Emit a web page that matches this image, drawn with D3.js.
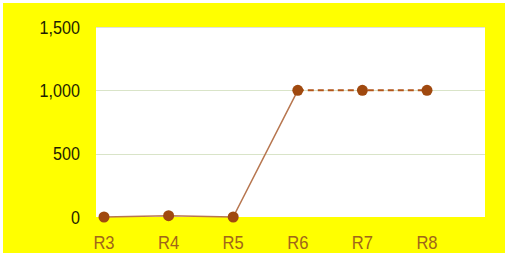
<!DOCTYPE html>
<html>
<head>
<meta charset="utf-8">
<script src="https://cdn.jsdelivr.net/npm/d3@7"></script>
<style>
  body { margin: 0; background: #fff; }
  text { font-family: "Liberation Sans", Arial, sans-serif; }
</style>
</head>
<body>
<div id="chart"></div>
<script>
// chart data
var categories = ["R3", "R4", "R5", "R6", "R7", "R8"];
var values = [0, 10, 0, 1000, 1000, 1000];
var yTicks = [0, 500, 1000, 1500];
var solidUntil = 3; // R3..R6 solid, R6..R8 dashed

var W = 505, H = 253;

var svg = d3.select("#chart")
  .append("svg")
    .attr("width", W)
    .attr("height", H);

// yellow chart background
svg.append("rect")
  .attr("x", 3).attr("y", 3)
  .attr("width", W - 3).attr("height", H - 3)
  .attr("fill", "#ffff00");

var plot = {left: 96, top: 27, right: 485, bottom: 217};

// plot area
svg.append("rect")
  .attr("x", plot.left).attr("y", plot.top)
  .attr("width", plot.right - plot.left)
  .attr("height", plot.bottom - plot.top)
  .attr("fill", "#fff");
svg.append("line")
  .attr("x1", plot.left).attr("x2", plot.right)
  .attr("y1", plot.top + 0.5).attr("y2", plot.top + 0.5)
  .attr("stroke", "#e0e0e0");

var x = d3.scalePoint()
  .domain(categories)
  .range([104, 427]);

var y = d3.scaleLinear()
  .domain([0, 1500])
  .range([plot.bottom, plot.top]);

// gridlines
svg.append("g")
  .selectAll("line")
  .data(yTicks.filter(function(d) { return d > 0 && d < 1500; }))
  .enter()
  .append("line")
    .attr("x1", plot.left).attr("x2", plot.right)
    .attr("y1", function(d) { return Math.round(y(d)) + 0.5; })
    .attr("y2", function(d) { return Math.round(y(d)) + 0.5; })
    .attr("stroke", "#d9e4c8");

// y axis labels
svg.append("g")
  .selectAll("text")
  .data(yTicks)
  .enter()
  .append("text")
    .attr("x", 80)
    .attr("y", function(d) { return y(d); })
    .attr("dy", "0.36em")
    .attr("text-anchor", "end")
    .attr("font-size", 17)
    .attr("fill", "#1e1e00")
    .attr("transform", function(d) { return "translate(80," + y(d) + ") scale(0.95,1.08) translate(-80," + (-y(d)) + ")"; })
    .text(function(d) { return d3.format(",")(d); });

// x axis labels
svg.append("g")
  .selectAll("text")
  .data(categories)
  .enter()
  .append("text")
    .attr("x", function(d) { return x(d); })
    .attr("y", 242)
    .attr("dy", "0.36em")
    .attr("text-anchor", "middle")
    .attr("font-size", 18)
    .attr("fill", "#a0661a")
    .attr("transform", function(d) { return "translate(" + x(d) + ",242) scale(0.92,1.05) translate(" + (-x(d)) + ",-242)"; })
    .text(function(d) { return d; });

var pts = categories.map(function(c, i) { return {cat: c, val: values[i]}; });
var line = d3.line()
  .x(function(d) { return x(d.cat); })
  .y(function(d) { return y(d.val); });

// solid part
svg.append("path")
  .datum(pts.slice(0, solidUntil + 1))
  .attr("d", line)
  .attr("fill", "none")
  .attr("stroke", "#b7764f")
  .attr("stroke-width", 1.5);

// dashed part
svg.append("path")
  .datum(pts.slice(solidUntil))
  .attr("d", line)
  .attr("fill", "none")
  .attr("stroke", "#b3561a")
  .attr("stroke-width", 2)
  .attr("stroke-dasharray", "6,4");

// markers
svg.append("g")
  .selectAll("circle")
  .data(pts)
  .enter()
  .append("circle")
    .attr("cx", function(d) { return x(d.cat); })
    .attr("cy", function(d) { return y(d.val); })
    .attr("r", 5.5)
    .attr("fill", "#a0490f");
</script>
</body>
</html>
